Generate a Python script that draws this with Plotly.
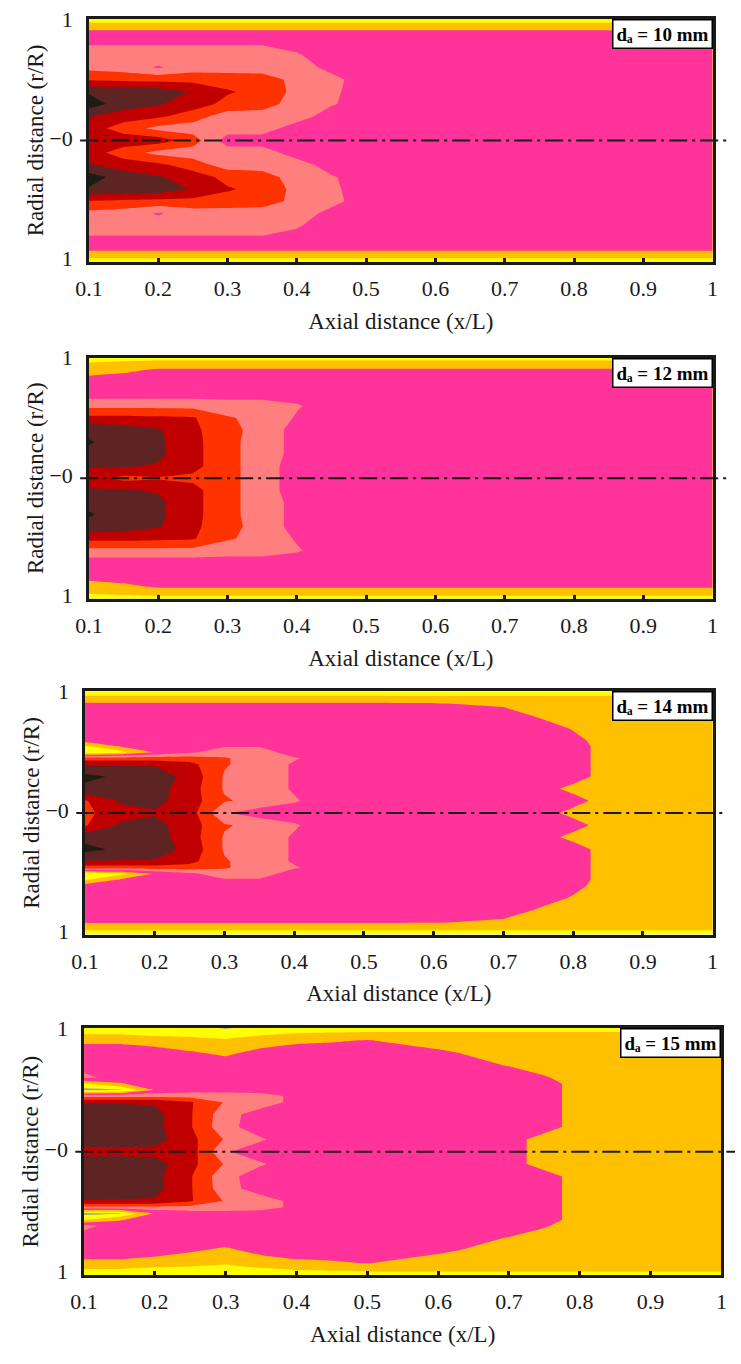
import plotly.graph_objects as go

# ---------------- data (level index) ----------------
# levels: 0 grey, 1 yellow, 2 gold, 3 pink, 4 salmon, 5 orange-red, 6 dark red, 7 brown, 8 black
AXIAL = [0.1, 0.15, 0.2, 0.25, 0.3, 0.35, 0.4, 0.45, 0.5, 0.6, 0.7, 0.75, 0.8, 0.85, 0.9, 1.0]
RADIAL_A = [0.0, 0.1, 0.2, 0.3, 0.4, 0.5, 0.6, 0.7, 0.8, 0.9, 0.95, 1.0]
RADIAL_B = [0.0, 0.1, 0.2, 0.3, 0.4, 0.45, 0.5, 0.55, 0.6, 0.7, 0.8, 0.9, 0.95, 1.0]

LEVEL_D10 = [
    [6.2, 6.1, 6.0, 5.0, 3.0, 3.0, 3.0, 3.0, 3.0, 3.0, 3.0, 3.0, 3.0, 3.0, 3.0, 3.0],
    [6.0, 5.0, 4.2, 4.0, 4.0, 4.0, 3.0, 3.0, 3.0, 3.0, 3.0, 3.0, 3.0, 3.0, 3.0, 3.0],
    [6.6, 6.0, 5.7, 5.0, 4.0, 4.0, 4.0, 3.0, 3.0, 3.0, 3.0, 3.0, 3.0, 3.0, 3.0, 3.0],
    [8.0, 7.0, 6.6, 6.0, 5.2, 5.0, 4.0, 3.6, 3.0, 3.0, 3.0, 3.0, 3.0, 3.0, 3.0, 3.0],
    [7.4, 7.2, 7.1, 6.4, 5.6, 5.2, 4.2, 3.7, 3.0, 3.0, 3.0, 3.0, 3.0, 3.0, 3.0, 3.0],
    [5.4, 5.3, 5.2, 5.2, 5.1, 5.0, 4.2, 3.8, 3.0, 3.0, 3.0, 3.0, 3.0, 3.0, 3.0, 3.0],
    [4.2, 4.0, 3.4, 4.0, 4.0, 4.0, 4.0, 3.2, 3.0, 3.0, 3.0, 3.0, 3.0, 3.0, 3.0, 3.0],
    [4.0, 4.0, 4.0, 4.0, 4.0, 4.0, 3.6, 3.0, 3.0, 3.0, 3.0, 3.0, 3.0, 3.0, 3.0, 3.0],
    [3.4, 3.4, 3.4, 3.4, 3.4, 3.4, 3.2, 3.0, 3.0, 3.0, 3.0, 3.0, 3.0, 3.0, 3.0, 3.0],
    [2.6, 2.6, 2.6, 2.6, 2.6, 2.6, 2.6, 2.6, 2.6, 2.6, 2.6, 2.6, 2.6, 2.6, 2.6, 2.6],
    [1.8, 1.8, 1.8, 1.8, 1.8, 1.8, 1.8, 1.8, 1.8, 1.8, 1.8, 1.8, 1.8, 1.8, 1.8, 1.8],
    [1.0, 1.0, 1.0, 1.0, 1.0, 1.0, 1.0, 1.0, 1.0, 1.0, 1.0, 1.0, 1.0, 1.0, 1.0, 1.0],
]

LEVEL_D12 = [
    [6.0, 5.2, 5.4, 5.3, 4.8, 4.0, 3.0, 3.0, 3.0, 3.0, 3.0, 3.0, 3.0, 3.0, 3.0, 3.0],
    [6.6, 6.6, 6.4, 5.8, 4.8, 4.0, 3.0, 3.0, 3.0, 3.0, 3.0, 3.0, 3.0, 3.0, 3.0, 3.0],
    [7.2, 7.0, 6.7, 5.8, 4.8, 4.0, 3.2, 3.0, 3.0, 3.0, 3.0, 3.0, 3.0, 3.0, 3.0, 3.0],
    [7.6, 7.0, 6.7, 5.8, 4.8, 4.0, 3.2, 3.0, 3.0, 3.0, 3.0, 3.0, 3.0, 3.0, 3.0, 3.0],
    [7.2, 7.0, 6.6, 5.7, 4.9, 4.0, 3.2, 3.0, 3.0, 3.0, 3.0, 3.0, 3.0, 3.0, 3.0, 3.0],
    [5.8, 5.8, 5.7, 5.6, 4.6, 4.2, 3.4, 3.0, 3.0, 3.0, 3.0, 3.0, 3.0, 3.0, 3.0, 3.0],
    [4.2, 4.2, 4.2, 4.2, 4.0, 4.0, 3.6, 3.0, 3.0, 3.0, 3.0, 3.0, 3.0, 3.0, 3.0, 3.0],
    [3.0, 3.0, 3.0, 3.0, 3.0, 3.0, 3.0, 3.0, 3.0, 3.0, 3.0, 3.0, 3.0, 3.0, 3.0, 3.0],
    [3.0, 3.0, 3.0, 3.0, 3.0, 3.0, 3.0, 3.0, 3.0, 3.0, 3.0, 3.0, 3.0, 3.0, 3.0, 3.0],
    [2.0, 2.3, 2.6, 2.6, 2.6, 2.6, 2.6, 2.6, 2.6, 2.6, 2.6, 2.6, 2.6, 2.6, 2.6, 2.6],
    [1.6, 1.8, 2.0, 2.0, 2.0, 2.0, 2.0, 2.0, 2.0, 2.0, 2.0, 2.0, 2.0, 2.0, 2.0, 2.0],
    [1.0, 1.0, 1.0, 1.0, 1.0, 1.0, 1.0, 1.0, 1.0, 1.0, 1.0, 1.0, 1.0, 1.0, 1.0, 1.0],
]

LEVEL_D14 = [
    [5.2, 6.2, 6.4, 6.0, 3.6, 3.0, 3.0, 3.0, 3.0, 3.0, 3.0, 3.0, 2.2, 2.0, 2.0, 2.0],
    [5.4, 6.6, 6.8, 6.0, 4.6, 4.2, 3.6, 3.0, 3.0, 3.0, 3.0, 3.0, 2.9, 2.0, 2.0, 2.0],
    [7.2, 7.1, 6.9, 6.0, 4.4, 4.0, 3.4, 3.0, 3.0, 3.0, 3.0, 3.0, 2.2, 2.0, 2.0, 2.0],
    [7.8, 7.3, 7.0, 6.2, 4.4, 4.0, 3.4, 3.0, 3.0, 3.0, 3.0, 3.0, 3.0, 2.0, 2.0, 2.0],
    [6.4, 6.4, 6.4, 5.8, 4.6, 4.0, 3.4, 3.0, 3.0, 3.0, 3.0, 3.0, 3.0, 2.0, 2.0, 2.0],
    [5.0, 5.0, 5.0, 5.0, 4.6, 4.0, 3.6, 3.0, 3.0, 3.0, 3.0, 3.0, 3.0, 2.0, 2.0, 2.0],
    [0.6, 1.2, 2.6, 3.3, 4.0, 4.0, 3.0, 3.0, 3.0, 3.0, 3.0, 3.0, 3.0, 2.0, 2.0, 2.0],
    [1.4, 2.6, 3.0, 3.0, 3.4, 3.4, 3.0, 3.0, 3.0, 3.0, 3.0, 3.0, 3.0, 2.0, 2.0, 2.0],
    [3.0, 3.0, 3.0, 3.0, 3.0, 3.0, 3.0, 3.0, 3.0, 3.0, 3.0, 3.0, 2.8, 2.0, 2.0, 2.0],
    [3.0, 3.0, 3.0, 3.0, 3.0, 3.0, 3.0, 3.0, 3.0, 3.0, 3.0, 3.0, 2.4, 2.0, 2.0, 2.0],
    [3.0, 3.0, 3.0, 3.0, 3.0, 3.0, 3.0, 3.0, 3.0, 3.0, 3.0, 2.4, 2.0, 2.0, 2.0, 2.0],
    [2.6, 2.6, 2.6, 2.6, 2.6, 2.6, 2.6, 2.6, 2.6, 2.55, 2.3, 2.0, 2.0, 2.0, 2.0, 2.0],
    [1.7, 1.7, 1.7, 1.7, 1.7, 1.7, 1.7, 1.7, 1.7, 1.7, 1.7, 1.7, 1.7, 1.7, 1.7, 1.7],
    [1.0, 1.0, 1.0, 1.0, 1.0, 1.0, 1.0, 1.0, 1.0, 1.0, 1.0, 1.0, 1.0, 1.0, 1.0, 1.0],
]

LEVEL_D15 = [
    [6.2, 6.2, 6.2, 6.0, 3.6, 3.0, 3.0, 3.0, 3.0, 3.0, 3.0, 2.0, 2.0, 2.0, 2.0, 2.0],
    [7.0, 7.0, 6.9, 5.8, 4.4, 3.6, 3.0, 3.0, 3.0, 3.0, 3.0, 2.0, 2.0, 2.0, 2.0, 2.0],
    [7.2, 7.1, 6.8, 5.6, 3.8, 3.0, 3.0, 3.0, 3.0, 3.0, 3.0, 3.0, 2.0, 2.0, 2.0, 2.0],
    [7.2, 7.1, 6.8, 5.6, 3.9, 3.0, 3.0, 3.0, 3.0, 3.0, 3.0, 3.0, 2.0, 2.0, 2.0, 2.0],
    [6.4, 6.4, 6.4, 5.6, 4.4, 4.0, 3.2, 3.0, 3.0, 3.0, 3.0, 3.0, 2.0, 2.0, 2.0, 2.0],
    [4.2, 4.2, 4.2, 4.2, 4.2, 4.0, 3.2, 3.0, 3.0, 3.0, 3.0, 3.0, 2.0, 2.0, 2.0, 2.0],
    [0.2, 0.4, 2.6, 3.0, 3.0, 3.0, 3.0, 3.0, 3.0, 3.0, 3.0, 3.0, 2.0, 2.0, 2.0, 2.0],
    [1.4, 2.4, 3.0, 3.0, 3.0, 3.0, 3.0, 3.0, 3.0, 3.0, 3.0, 3.0, 2.0, 2.0, 2.0, 2.0],
    [3.8, 3.0, 3.0, 3.0, 3.0, 3.0, 3.0, 3.0, 3.0, 3.0, 3.0, 2.6, 2.0, 2.0, 2.0, 2.0],
    [3.0, 3.0, 3.0, 3.0, 3.0, 3.0, 3.0, 3.0, 3.0, 3.0, 2.45, 2.0, 2.0, 2.0, 2.0, 2.0],
    [3.0, 3.0, 3.0, 2.6, 2.3, 2.8, 3.0, 3.0, 3.0, 2.7, 2.0, 2.0, 2.0, 2.0, 2.0, 2.0],
    [2.3, 2.3, 2.0, 1.9, 1.6, 2.0, 2.3, 2.4, 2.55, 2.0, 2.0, 2.0, 2.0, 2.0, 2.0, 2.0],
    [1.5, 1.5, 1.3, 1.2, 1.2, 1.4, 1.6, 1.7, 1.8, 1.8, 1.8, 1.8, 1.8, 1.8, 1.8, 1.8],
    [1.0, 1.0, 1.0, 0.8, 0.4, 0.8, 1.0, 1.0, 1.0, 1.0, 1.0, 1.0, 1.0, 1.0, 1.0, 1.0],
]

PANEL_LABELS = ["10", "12", "14", "15"]
X_TITLE = "Axial distance (x/L)"
Y_TITLE = "Radial distance (r/R)"
X_TICKS = [0.1, 0.2, 0.3, 0.4, 0.5, 0.6, 0.7, 0.8, 0.9, 1.0]
X_TICK_TEXT = ["0.1", "0.2", "0.3", "0.4", "0.5", "0.6", "0.7", "0.8", "0.9", "1"]
Y_TICKS = [-0.97, 0.02, 1.0]
Y_TICK_TEXT = ["1", "\u22120", "1"]

LEVEL_COLORS = ["#a3a3a3", "#ffff00", "#ffc000", "#ff3399", "#ff7f7f",
                "#ff3300", "#c00000", "#5e2424", "#1d1d12"]

# ---------------- layout geometry (pixels) ----------------
W, H = 741, 1364
BOXES = [(77, 718, 7, 254), (77, 718, 351, 596), (73, 718, 690, 937), (72, 727, 1032, 1283)]
FONT = "Liberation Serif, Times New Roman, serif"
INK = "#1a1a1a"


def mirror(radial, rows):
    ys = [-r for r in radial[::-1]] + radial[1:]
    zs = rows[::-1] + rows[1:]
    return ys, zs


scale = []
n = len(LEVEL_COLORS)
for k, c in enumerate(LEVEL_COLORS):
    a = max(0.0, (k - 0.5) / (n - 1))
    b = min(1.0, (k + 0.5) / (n - 1))
    scale.append([a, c])
    scale.append([b, c])

fig = go.Figure()
panels = [(RADIAL_A, LEVEL_D10), (RADIAL_A, LEVEL_D12), (RADIAL_B, LEVEL_D14), (RADIAL_B, LEVEL_D15)]
layout = {}
shapes = []
annotations = []
for i, ((radial, rows), (l, r, t, b)) in enumerate(zip(panels, BOXES)):
    idx = "" if i == 0 else str(i + 1)
    ys, zs = mirror(radial, rows)
    fig.add_trace(go.Contour(
        x=AXIAL, y=ys, z=zs, xaxis="x" + idx, yaxis="y" + idx,
        autocontour=False, contours=dict(start=0.5, end=7.5, size=1, coloring="fill", showlines=False),
        line=dict(width=0, smoothing=0), colorscale=scale, zmin=0, zmax=8, showscale=False,
        hoverinfo="skip",
    ))
    layout["xaxis" + idx] = dict(
        domain=[l / W, r / W], anchor="y" + idx, range=[0.1, 1.0],
        tickvals=X_TICKS, ticktext=X_TICK_TEXT, ticks="inside", ticklen=4, tickwidth=2.5, tickcolor=INK,
        showline=True, linecolor=INK, linewidth=2.5, mirror=True, showgrid=False, zeroline=False,
        tickfont=dict(family=FONT, size=22, color=INK), ticklabelstandoff=5,
        title=dict(text=X_TITLE, standoff=13, font=dict(family=FONT, size=23, color=INK)),
    )
    layout["yaxis" + idx] = dict(
        domain=[1 - b / H, 1 - t / H], anchor="x" + idx, range=[-1, 1],
        tickvals=Y_TICKS, ticktext=Y_TICK_TEXT, ticks="",
        showline=True, linecolor=INK, linewidth=2.5, mirror=True, showgrid=False, zeroline=False,
        tickfont=dict(family=FONT, size=22, color=INK), ticklabelstandoff=9,
        title=dict(text=Y_TITLE, standoff=0, font=dict(family=FONT, size=23, color=INK)),
    )
    shapes.append(dict(type="line", xref="paper", yref="y" + idx,
                       x0=(l - 9) / W, x1=min(r + 15, W) / W, y0=0, y1=0,
                       line=dict(color=INK, width=2, dash="18px,5px,3px,5px")))
    annotations.append(dict(text="<b>d\u2090 = " + PANEL_LABELS[i] + " mm</b>",
                            xref="x" + idx + " domain", yref="y" + idx + " domain", x=1, y=1,
                            xanchor="right", yanchor="top", showarrow=False,
                            bgcolor="white", bordercolor="black", borderwidth=1.5, borderpad=3,
                            font=dict(family=FONT, size=19, color="black")))

fig.update_layout(width=W, height=H, margin=dict(l=0, r=0, t=0, b=0),
                  paper_bgcolor="white", plot_bgcolor="white", showlegend=False,
                  shapes=shapes, annotations=annotations, **layout)
fig.write_html("out.html")
